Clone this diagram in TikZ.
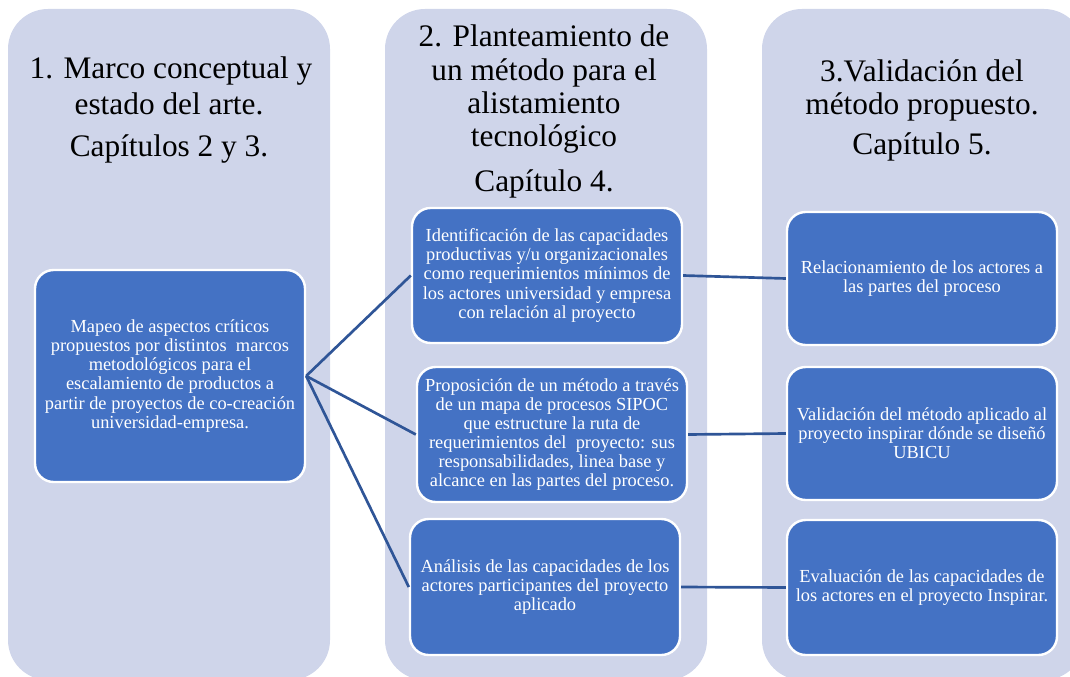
\documentclass[tikz,border=0pt]{standalone}
\usepackage{fontspec}
\setmainfont{Liberation Serif}
\definecolor{colfill}{HTML}{CFD5EA}
\definecolor{boxfill}{HTML}{4472C4}
\definecolor{linkc}{HTML}{2F5597}
\begin{document}
\begin{tikzpicture}[x=0.75pt,y=-0.75pt,
  col/.style={fill=colfill, draw=none, rounded corners=30pt},
  box/.style={fill=boxfill, draw=white, line width=1.8pt, rounded corners=14pt,
    text=white, font=\fontsize{13.8}{14.3}\selectfont, align=center,
    minimum width=202.5pt, inner sep=0pt},
  head/.style={font=\fontsize{23.5}{28}\selectfont, anchor=base, inner sep=0pt},
  link/.style={draw=linkc, line width=2pt}]
\useasboundingbox (0,0) rectangle (1070,677);
\clip (0,0) rectangle (1070,677);
% columns
\path[col] (8,9) rectangle (330,680);
\path[col] (385,9) rectangle (707,680);
\path[col] (762,9) rectangle (1084,680);
% headings
\node[head] (h1a) at (171,79) {1. Marco conceptual y};
\node[head] (h1b) at (169,115) {estado del arte.};
\node[head] (h1c) at (169,157) {Capítulos 2 y 3.};
\node[head] (h2a) at (544,47) {2. Planteamiento de};
\node[head] (h2b) at (544,81) {un método para el};
\node[head] (h2c) at (544,114) {alistamiento};
\node[head] (h2d) at (544,147) {tecnológico};
\node[head] (h2e) at (544,192) {Capítulo 4.};
\node[head] (h3a) at (922,82) {3.Validación del};
\node[head] (h3b) at (922,115) {método propuesto.};
\node[head] (h3c) at (922,155) {Capítulo 5.};
% boxes
\node[box, minimum height=159pt] (mapeo) at (170,376) {Mapeo de aspectos críticos\\propuestos por distintos~ marcos\\metodológicos para el\\escalamiento de productos a\\partir de proyectos de co-creación\\universidad-empresa.};
\node[box, minimum height=101.25pt] (ident) at (547,275.5) {Identificación de las capacidades\\productivas y/u organizacionales\\como requerimientos mínimos de\\los actores universidad y empresa\\con relación al proyecto};
\node[box, minimum height=101.25pt] (propos) at (552,434.5) {Proposición de un método a través\\de un mapa de procesos SIPOC\\que estructure la ruta de\\requerimientos del~ proyecto: sus\\responsabilidades, linea base y\\alcance en las partes del proceso.};
\node[box, minimum height=102pt] (analisis) at (545,587) {Análisis de las capacidades de los\\actores participantes del proyecto\\aplicado};
\node[box, minimum height=99.75pt] (relac) at (922,278.5) {Relacionamiento de los actores a\\las partes del proceso};
\node[box, minimum height=99.75pt] (valid) at (922,433.5) {Validación del método aplicado al\\proyecto inspirar dónde se diseñó\\UBICU};
\node[box, minimum height=101.25pt] (evalu) at (922,587.5) {Evaluación de las capacidades de\\los actores en el proyecto Inspirar.};
% connectors
\draw[link] (mapeo.east) -- (ident.west);
\draw[link] (mapeo.east) -- (propos.west);
\draw[link] (mapeo.east) -- (analisis.west);
\draw[link] (ident.east) -- (relac.west);
\draw[link] (propos.east) -- (valid.west);
\draw[link] (analisis.east) -- (evalu.west);
\end{tikzpicture}
\end{document}
